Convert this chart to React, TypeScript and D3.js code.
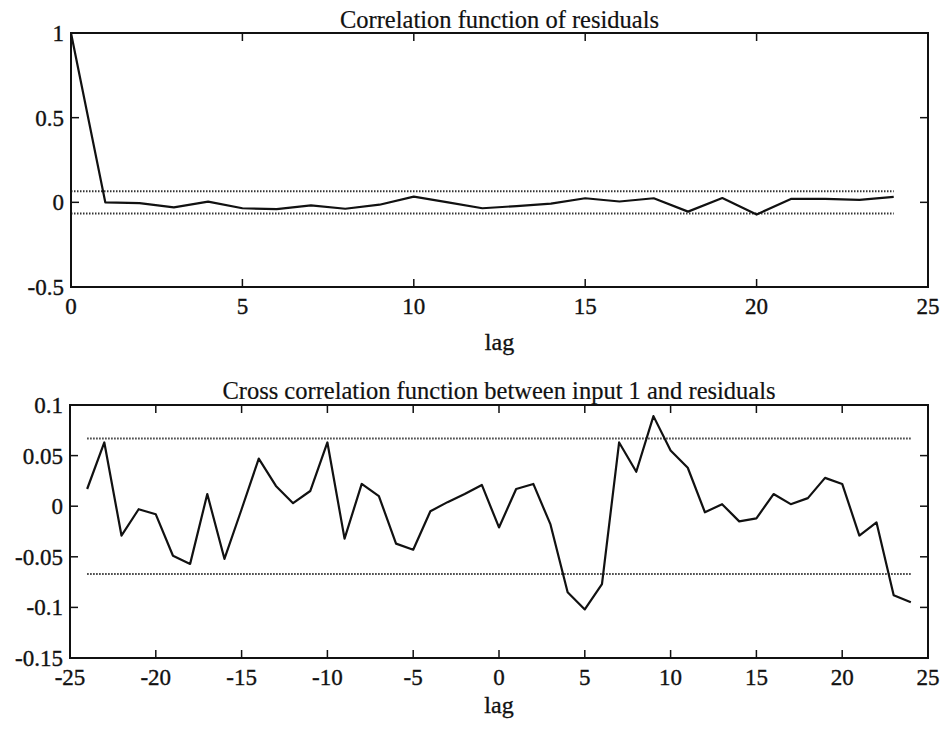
import React, { useEffect, useRef } from "react";
import * as d3 from "d3";

// autocorrelation of residuals, lags 0..24
const acfLags = d3.range(0, 25);
const acfValues = [
  1, 0, -0.005, -0.03, 0.004, -0.035, -0.04, -0.018, -0.038, -0.014, 0.034, 0.0, -0.035, -0.022, -0.008,
  0.024, 0.005, 0.024, -0.055, 0.025, -0.072, 0.02, 0.02, 0.015, 0.032,
];
const acfBand = 0.066;

// cross correlation input 1 vs residuals, lags -24..24
const ccfLags = d3.range(-24, 25);
const ccfValues = [
  0.017, 0.063, -0.029, -0.003, -0.008, -0.049, -0.057, 0.012, -0.052, -0.003, 0.047, 0.02, 0.003, 0.015,
  0.063, -0.032, 0.022, 0.01, -0.037, -0.043, -0.005, 0.004, 0.012, 0.021, -0.021, 0.017, 0.022, -0.018,
  -0.085, -0.102, -0.077, 0.063, 0.034, 0.089, 0.055, 0.038, -0.006, 0.002, -0.015, -0.012, 0.012, 0.002,
  0.008, 0.028, 0.022, -0.029, -0.016, -0.088, -0.095,
];
const ccfBand = 0.067;

const acfXTicks = [0, 5, 10, 15, 20, 25];
const acfYTicks = [-0.5, 0, 0.5, 1];
const ccfXTicks = [-25, -20, -15, -10, -5, 0, 5, 10, 15, 20, 25];
const ccfYTicks = [-0.15, -0.1, -0.05, 0, 0.05, 0.1];

const titles = ["Correlation function of residuals", "Cross correlation function between input 1 and residuals"];

const FONT = "'Liberation Serif', 'Times New Roman', serif";

export default function App() {
  const svgRef = useRef<SVGSVGElement>(null);

  useEffect(() => {
    const svg = d3.select(svgRef.current);
    svg.selectAll("*").remove();
    svg.append("rect").attr("width", 944).attr("height", 730).attr("fill", "#fff");

    const panels = [
      {
        lags: acfLags,
        values: acfValues,
        band: acfBand,
        x: d3.scaleLinear().domain([0, 25]).range([71, 928]),
        y: d3.scaleLinear().domain([-0.5, 1]).range([287, 33]),
        xTicks: acfXTicks,
        yTicks: acfYTicks,
        title: titles[0],
        titleY: 28,
        tickY: 314,
        lagY: 350,
      },
      {
        lags: ccfLags,
        values: ccfValues,
        band: ccfBand,
        x: d3.scaleLinear().domain([-25, 25]).range([70, 928]),
        y: d3.scaleLinear().domain([-0.15, 0.1]).range([658, 405]),
        xTicks: ccfXTicks,
        yTicks: ccfYTicks,
        title: titles[1],
        titleY: 399,
        tickY: 685,
        lagY: 713,
      },
    ];

    const label = (sel: any, size: number) =>
      sel
        .attr("font-family", FONT)
        .attr("font-size", size)
        .attr("fill", "#111")
        .attr("stroke", "#111")
        .attr("stroke-width", 0.35);

    panels.forEach((p) => {
      const g = svg.append("g");
      const [x0, x1] = p.x.range();
      const [y0, y1] = p.y.range();
      const tick = 8;

      // confidence band (dotted)
      const first = p.lags[0];
      const last = p.lags[p.lags.length - 1];
      [p.band, -p.band].forEach((b) => {
        g.append("line")
          .attr("x1", p.x(first))
          .attr("x2", p.x(last))
          .attr("y1", p.y(b))
          .attr("y2", p.y(b))
          .attr("stroke", "#333")
          .attr("stroke-width", 2)
          .attr("stroke-dasharray", "1.5,1.5");
      });

      // series
      const line = d3
        .line<number>()
        .x((d, i) => p.x(p.lags[i]))
        .y((d) => p.y(d));
      g.append("path")
        .attr("d", line(p.values))
        .attr("fill", "none")
        .attr("stroke", "#111")
        .attr("stroke-width", 2.2)
        .attr("stroke-linejoin", "round");

      // frame
      g.append("rect")
        .attr("x", x0)
        .attr("y", y1)
        .attr("width", x1 - x0)
        .attr("height", y0 - y1)
        .attr("fill", "none")
        .attr("stroke", "#111")
        .attr("stroke-width", 2);

      // ticks, inside on all four sides
      p.xTicks.forEach((t) => {
        const xx = p.x(t);
        g.append("line").attr("x1", xx).attr("x2", xx).attr("y1", y0).attr("y2", y0 - tick).attr("stroke", "#111").attr("stroke-width", 1.5);
        g.append("line").attr("x1", xx).attr("x2", xx).attr("y1", y1).attr("y2", y1 + tick).attr("stroke", "#111").attr("stroke-width", 1.5);
        label(g.append("text"), 23)
          .attr("x", xx)
          .attr("y", p.tickY)
          .attr("text-anchor", "middle")
          .text(String(t));
      });
      p.yTicks.forEach((t) => {
        const yy = p.y(t);
        g.append("line").attr("x1", x0).attr("x2", x0 + tick).attr("y1", yy).attr("y2", yy).attr("stroke", "#111").attr("stroke-width", 1.5);
        g.append("line").attr("x1", x1).attr("x2", x1 - tick).attr("y1", yy).attr("y2", yy).attr("stroke", "#111").attr("stroke-width", 1.5);
        label(g.append("text"), 23)
          .attr("x", x0 - 7)
          .attr("y", yy)
          .attr("dy", "0.35em")
          .attr("text-anchor", "end")
          .text(String(t));
      });

      label(g.append("text"), 24.5)
        .attr("x", (x0 + x1) / 2)
        .attr("y", p.titleY)
        .attr("text-anchor", "middle")
        .attr("stroke-width", 0.2)
        .text(p.title);

      label(g.append("text"), 24)
        .attr("x", (x0 + x1) / 2)
        .attr("y", p.lagY)
        .attr("text-anchor", "middle")
        .text("lag");
    });
  }, []);

  return <svg ref={svgRef} width={944} height={730} style={{ position: "absolute", left: 0, top: 0 }}></svg>;
}
